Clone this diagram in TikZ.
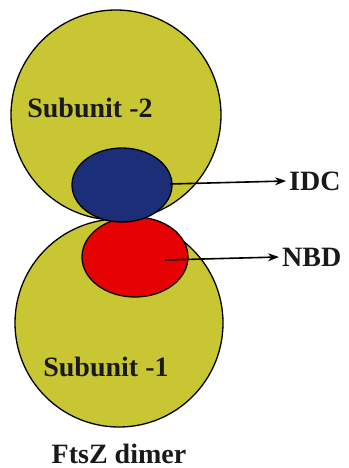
\documentclass[tikz,border=0pt]{standalone}
\usepackage{fontspec}
\setmainfont{Liberation Serif}
\usetikzlibrary{arrows.meta}
\definecolor{olive}{RGB}{201,198,52}
\definecolor{navy}{RGB}{28,46,120}
\definecolor{redd}{RGB}{230,2,2}
\definecolor{txt}{RGB}{25,25,25}
\begin{document}
\begin{tikzpicture}[x=1pt,y=-1pt,
  subunit/.style={circle,draw=black,line width=1.3pt,fill=olive,minimum size=#1,inner sep=0},
  lbl/.style={font=\bfseries\fontsize{28}{30}\selectfont,text=txt,inner sep=0},
  ptr/.style={line width=1.6pt,-{Stealth[length=11pt,width=8pt]}}
]
\useasboundingbox (0,0) rectangle (348,468);
\node[subunit=208pt] (s1) at (119,323) {};
\node[subunit=210pt] (s2) at (116,115) {};
\draw[line width=1.3pt,fill=redd] (135,257) ellipse [x radius=53, y radius=40];
\node[minimum width=106pt,minimum height=80pt,inner sep=0] (nbdell) at (135,257) {};
\draw[line width=1.3pt,fill=navy] (122,185) ellipse [x radius=50, y radius=37];
\node[minimum width=100pt,minimum height=74pt,inner sep=0] (idcell) at (122,185) {};
\node[lbl] (l2) at (90,108) {Subunit -2};
\node[lbl] (l1) at (106,367) {Subunit -1};
\node[lbl,anchor=base] (dimer) at (119,463) {FtsZ dimer};
\node[lbl,anchor=west,inner sep=3pt] (idc) at (286,181) {IDC};
\node[lbl,anchor=west,inner sep=3pt] (nbd) at (279,257) {NBD};
\coordinate (idcstart) at (170,184);
\coordinate (nbdstart) at (165,260);
\draw[ptr] (idcstart) -- (idc.west);
\draw[ptr] (nbdstart) -- (nbd.west);
\end{tikzpicture}
\end{document}
